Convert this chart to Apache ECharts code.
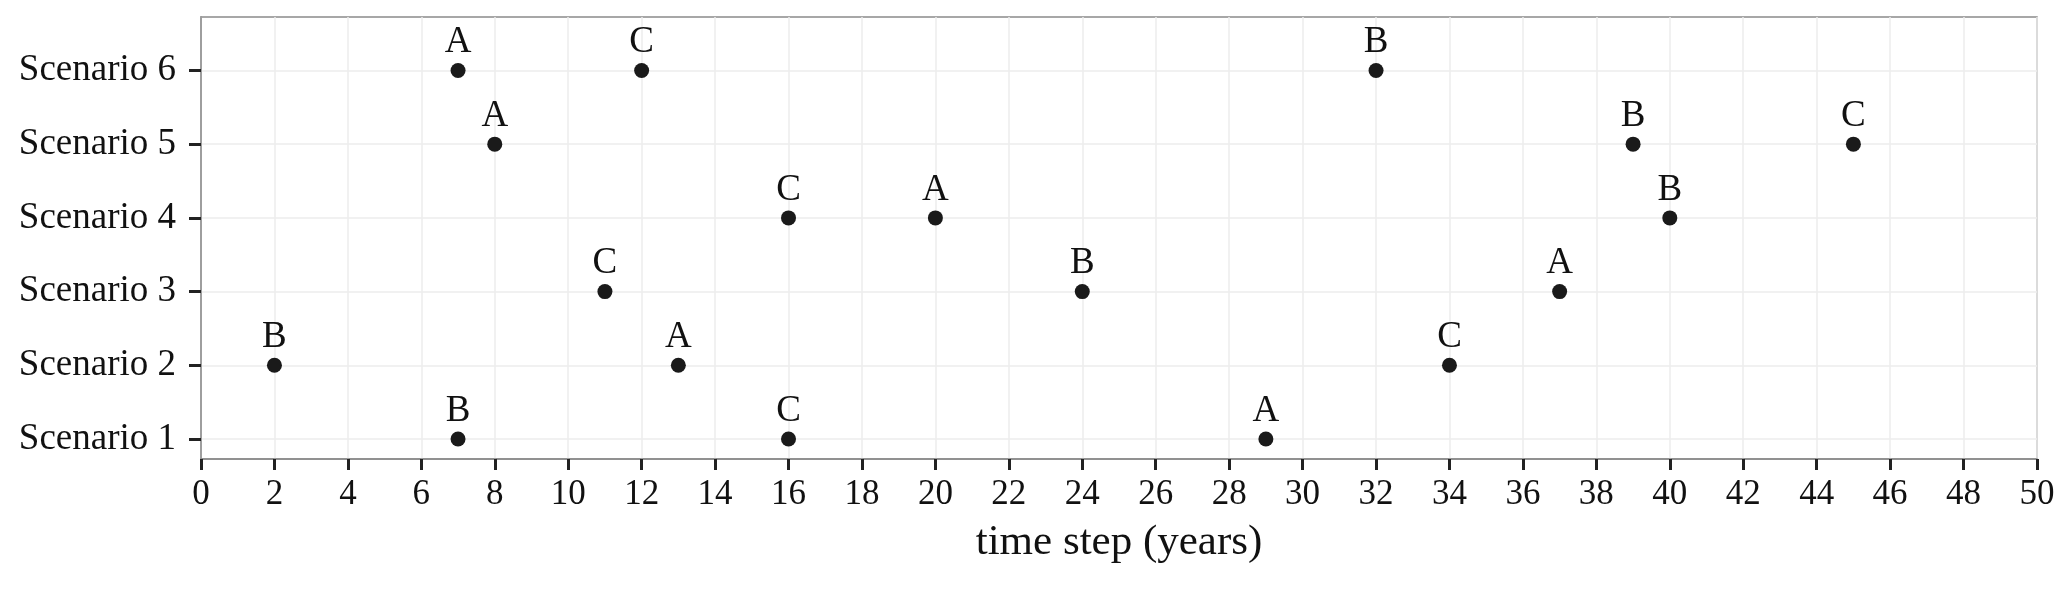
<!DOCTYPE html>
<html>
<head>
<meta charset="utf-8">
<script src="https://cdn.jsdelivr.net/npm/echarts@6/dist/echarts.min.js"></script>
<style>
  html, body { margin: 0; padding: 0; background: #fff; }
  #chart { width: 2067px; height: 590px; }
</style>
</head>
<body>
<div id="chart"></div>
<script>
const scenarios = ['Scenario 1', 'Scenario 2', 'Scenario 3', 'Scenario 4', 'Scenario 5', 'Scenario 6']
const scenarioPos = [1, 2, 3, 4, 5, 6]
// event times per scenario (same order as scenarios)
const eventYears = [
  [7, 16, 29],
  [2, 13, 34],
  [11, 24, 37],
  [16, 20, 40],
  [8, 39, 45],
  [7, 12, 32]
]
const eventNames = [
  ['B', 'C', 'A'],
  ['B', 'A', 'C'],
  ['C', 'B', 'A'],
  ['C', 'A', 'B'],
  ['A', 'B', 'C'],
  ['A', 'C', 'B']
]
const xTicks = [0, 2, 4, 6, 8, 10, 12, 14, 16, 18, 20, 22, 24, 26, 28, 30, 32, 34, 36, 38, 40, 42, 44, 46, 48, 50]

const points = []
eventYears.forEach((years, i) => {
  years.forEach((yr, j) => {
    points.push([yr, scenarioPos[i], eventNames[i][j]])
  })
})

const font = 'Liberation Serif'
const chart = echarts.init(document.getElementById('chart'))

const option = {
  backgroundColor: '#fff',
  animation: false,
  grid: {
    left: 201, right: 30, top: 17, bottom: 131,
    show: true,
    borderColor: '#8a8a8a',
    borderWidth: 1.5,
    backgroundColor: 'transparent'
  },
  xAxis: {
    type: 'value',
    min: 0,
    max: 50,
    interval: 2,
    name: 'time step (years)',
    nameLocation: 'middle',
    nameGap: 62,
    nameTextStyle: { fontFamily: font, fontSize: 43, color: '#111' },
    axisLine: { show: true, lineStyle: { color: '#8a8a8a', width: 1.5 } },
    axisTick: { show: true, length: 11, lineStyle: { color: '#222', width: 3 } },
    axisLabel: {
      fontFamily: font, fontSize: 35, color: '#111', margin: 18,
      customValues: xTicks
    },
    splitLine: { show: true, lineStyle: { color: '#ececec', width: 1.5 } }
  },
  yAxis: {
    type: 'value',
    min: 0.729,
    max: 6.725,
    axisLine: { show: true, lineStyle: { color: '#8a8a8a', width: 1.5 } },
    axisTick: {
      show: true, length: 12, customValues: scenarioPos,
      lineStyle: { color: '#222', width: 3 }
    },
    axisLabel: {
      fontFamily: font, fontSize: 37, color: '#111', margin: 25,
      customValues: scenarioPos,
      formatter: (v) => scenarios[scenarioPos.indexOf(Math.round(v))] || ''
    },
    splitLine: { show: true, lineStyle: { color: '#ececec', width: 1.5 } }
  },
  series: [
    {
      type: 'scatter',
      data: points,
      symbol: 'circle',
      symbolSize: 15,
      itemStyle: { color: '#1a1a1a', opacity: 1 },
      label: {
        show: true,
        position: 'top',
        distance: 2,
        formatter: (p) => p.value[2],
        fontFamily: font,
        fontSize: 37,
        color: '#111',
        opacity: 1
      }
    }
  ]
}

chart.setOption(option)
</script>
</body>
</html>
